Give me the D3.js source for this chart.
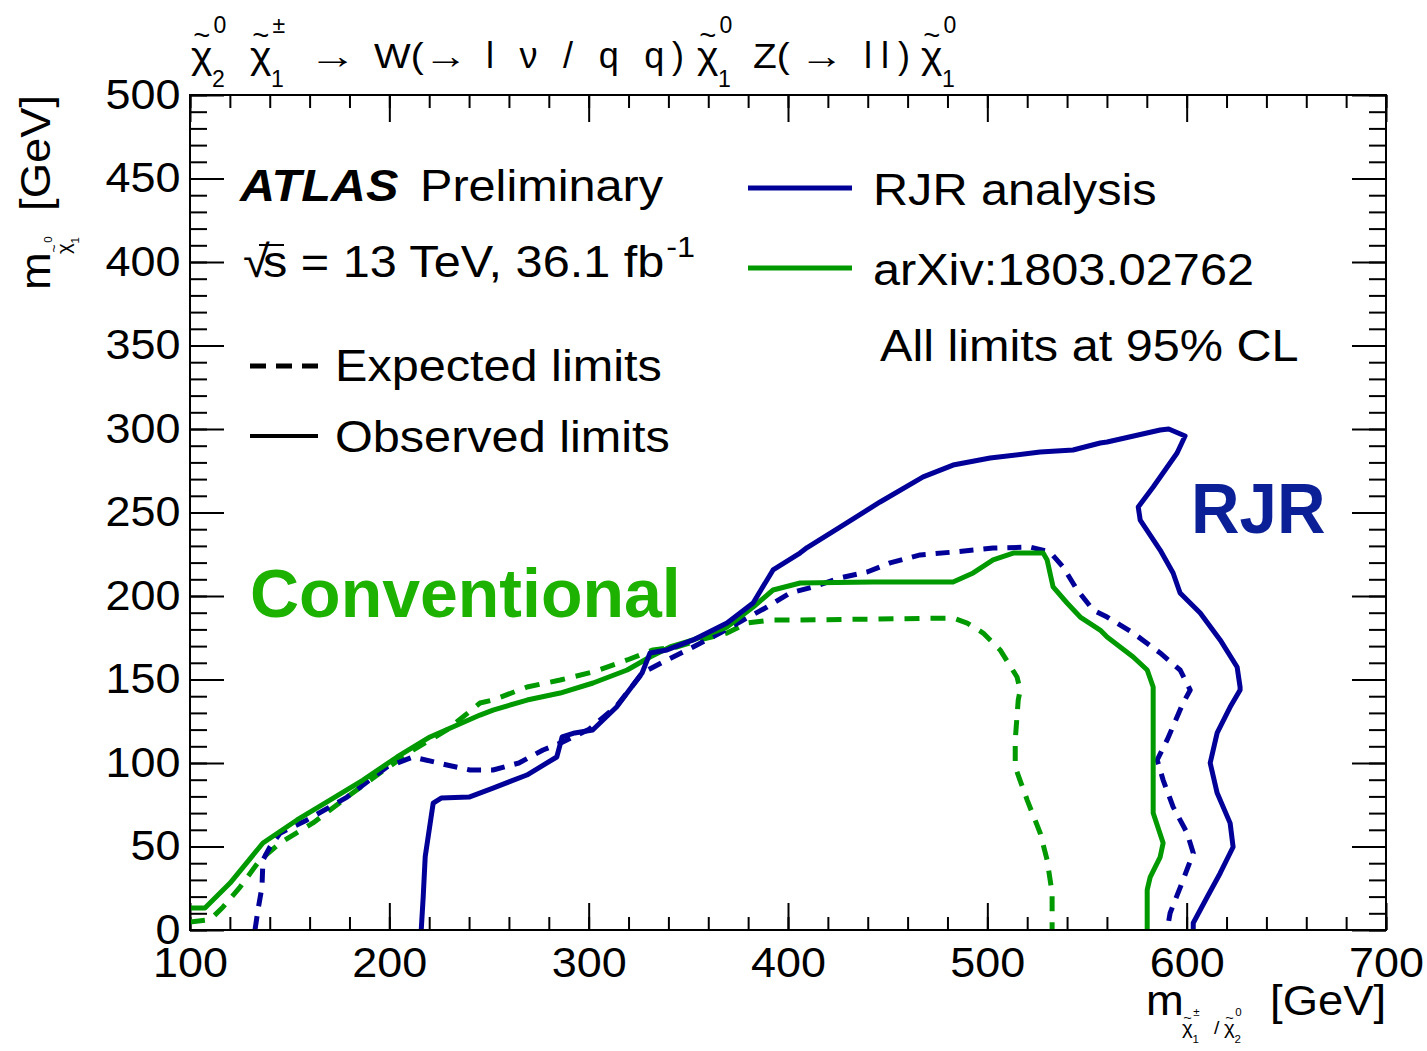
<!DOCTYPE html>
<html>
<head>
<meta charset="utf-8">
<script src="https://cdn.jsdelivr.net/npm/d3@7"></script>
<style>
  body { margin: 0; background: #fff; }
  svg { display: block; }
  text { font-family: "Liberation Sans", Arial, Helvetica, sans-serif; fill: #000; }
</style>
</head>
<body>
<svg id="chart" width="1427" height="1051"></svg>
<script>
// Exclusion contours: [m(chargino / neutralino2) GeV, m(neutralino1) GeV]
const rjrObserved = [
  [216,0],[217,20],[218,44],[222,76],[226,79],[240,79.6],[252,85],[269,92.8],[284,103.6],
  [286.7,115.6],[293,118],[302,119.8],[314,133.5],[326.8,153.9],[330.8,165.9],[339.3,167.7],
  [352.4,173.7],[369.4,183.8],[382.5,195.8],[392.5,215.6],[406,225.7],[409.6,229],[426.1,241.3],
  [446.2,256.3],[467.8,271.3],[482.8,278.4],[501.4,282.6],[526.5,286.2],[543,287.4],[556.6,291.6],
  [560.1,292.2],[586.7,299.4],[591,300],[599.2,295.8],[595.2,285.6],[583.2,265.3],[575.7,253.3],
  [576.7,245.5],[586.7,227.5],[593.2,213.8],[596.7,201.8],[606.8,189.8],[616.8,173.7],[625.3,157.5],
  [626.8,145.5],[626.8,143.7],[621.8,133.5],[615.3,118],[611.8,100],[615.3,82],[621.8,64],
  [623.3,49.7],[616.8,34],[610.3,19.8],[603.3,4.2],[603.3,0]
];
const rjrExpected = [
  [132.6,0],[134.1,12],[136.1,25.7],[136.6,41.9],[140.1,49.7],[145.2,58],[158.7,65.9],[178.8,79.6],
  [198.8,97.6],[211.9,103.6],[228.9,98.8],[240.5,95.8],[252,95.8],[265,100],[277.1,107.8],[286,112],
  [300,120],[314,134],[327,154],[339.3,161.7],[352.4,169.5],[365.9,177.8],[377.5,185.6],[389.5,193.4],
  [401.1,201.8],[412.6,205.4],[426.1,210.8],[439.7,214.4],[451.2,219.8],[466.3,224.6],[482.8,226.3],
  [502.9,228.7],[521.5,229.3],[531.5,226.3],[538,217.4],[545.1,203.6],[553.1,191.6],[560.1,187.4],
  [573.2,177.8],[586.7,165.9],[596.7,155.7],[601.8,143.7],[598.2,135.9],[590.2,113.8],[585.2,101.8],
  [588.2,89.8],[593.2,73.7],[600.2,58.1],[603.3,46.1],[598.2,29.9],[591.7,10.2],[590.2,0]
];
const convObserved = [
  [100,13.2],[107.5,13.2],[120.1,28.1],[136.6,52.1],[153.7,65.9],[170.2,77.8],[186.8,89.8],
  [203.9,103.6],[220.4,115.6],[245.5,128.7],[252,131.7],[269.1,137.7],[285.7,141.9],[302.2,147.9],
  [319.3,155.7],[330.8,163.5],[340.8,169.5],[352.4,173.7],[369.4,181.4],[382.5,193.4],[392.5,203.6],
  [406.1,207.8],[442.7,208.4],[482.8,208.4],[492.9,213.8],[502.9,221.6],[513,225.7],[528,225.7],
  [530,221.6],[533,205.4],[540,195.8],[546.6,187.4],[556.6,179.6],[560.1,175.4],[573.2,163.5],
  [580.2,155.7],[583.2,145.5],[583.2,109.6],[583.2,70.1],[588.2,52.1],[586.7,43.7],[581.7,31.7],
  [580.2,24],[580.2,0]
];
const convExpected = [
  [100,4.8],[108.5,6],[111.5,7.8],[116.6,13.8],[125.1,25.7],[135.1,41.9],[145.2,52.1],[161.7,64.1],
  [178.8,79.6],[195.3,94],[211.9,107.8],[228.9,119.8],[245.5,135.9],[252,137.7],[269.1,145.5],
  [285.7,149.7],[302.2,154.5],[319.3,161.7],[332.3,167.7],[344.4,169.5],[355.9,173.7],[369.4,177.8],
  [379.5,183.8],[391,185.6],[406.1,185.6],[482.8,186.8],[489.9,183.8],[497.9,177.8],[506.4,167.7],
  [514.9,151.5],[516.5,143.7],[515.5,137.7],[514,113.8],[514,97.6],[520,77.8],[526.5,58.1],
  [530,41.9],[532.5,22.2],[532.5,0]
];

const xMajorTicks = [100, 200, 300, 400, 500, 600, 700];
const yMajorTicks = [0, 50, 100, 150, 200, 250, 300, 350, 400, 450, 500];
const xMinorTicks = d3.range(100, 701, 20);
const yMinorTicks = d3.range(0, 501, 10);

const blue = "#000099";
const green = "#009a00";
const FONT = '"Liberation Sans", Arial, Helvetica, sans-serif';
const SX = 1.08; // horizontal widening of the ROOT-style text

const svg = d3.select("#chart");
svg.append("rect").attr("width", 1427).attr("height", 1051).attr("fill", "#fff");

const frame = { left: 190, right: 1386, top: 95, bottom: 930 };
const x = d3.scaleLinear().domain([100, 700]).range([frame.left, frame.right]);
const y = d3.scaleLinear().domain([0, 500]).range([frame.bottom, frame.top]);

// ---- axes (ticks pointing into the frame on all four sides) ----
function axis(gen, tx, ty) {
  const g = svg.append("g").attr("transform", `translate(${tx},${ty})`)
    .attr("font-family", FONT).call(gen);
  g.select(".domain").remove();
  g.selectAll("line").attr("stroke", "#000").attr("stroke-width", 2);
  return g;
}
axis(d3.axisBottom(x).tickValues(xMinorTicks).tickSize(-13).tickFormat(""), 0, frame.bottom);
axis(d3.axisTop(x).tickValues(xMinorTicks).tickSize(-13).tickFormat(""), 0, frame.top);
axis(d3.axisLeft(y).tickValues(yMinorTicks).tickSize(-17).tickFormat(""), frame.left, 0);
axis(d3.axisRight(y).tickValues(yMinorTicks).tickSize(-17).tickFormat(""), frame.right, 0);

const gxb = axis(d3.axisBottom(x).tickValues(xMajorTicks).tickSize(-27).tickPadding(17).tickFormat(d3.format("d")), 0, frame.bottom);
axis(d3.axisTop(x).tickValues(xMajorTicks).tickSize(-27).tickFormat(""), 0, frame.top);
const gyl = axis(d3.axisLeft(y).tickValues(yMajorTicks).tickSize(-34).tickPadding(9).tickFormat(d3.format("d")), frame.left, 0);
axis(d3.axisRight(y).tickValues(yMajorTicks).tickSize(-34).tickFormat(""), frame.right, 0);

[gxb, gyl].forEach(g => {
  g.attr("font-size", 42);
  g.selectAll("text").attr("fill", "#000").attr("transform", "scale(1.07,1)");
});

// ---- contours ----
svg.append("clipPath").attr("id", "plotclip").append("rect")
  .attr("x", frame.left).attr("y", frame.top)
  .attr("width", frame.right - frame.left).attr("height", frame.bottom - frame.top);

const line = d3.line().x(d => x(d[0])).y(d => y(d[1]));
const curves = svg.append("g").attr("clip-path", "url(#plotclip)");
const series = [
  { data: convExpected, color: green, dash: "15,11" },
  { data: rjrExpected, color: blue, dash: "14,10" },
  { data: convObserved, color: green, dash: null },
  { data: rjrObserved, color: blue, dash: null }
];
series.forEach(s => {
  curves.append("path").attr("d", line(s.data)).attr("fill", "none")
    .attr("stroke", s.color).attr("stroke-width", 5)
    .attr("stroke-linejoin", "round")
    .attr("stroke-dasharray", s.dash);
});

// frame
svg.append("rect").attr("x", frame.left).attr("y", frame.top)
  .attr("width", frame.right - frame.left).attr("height", frame.bottom - frame.top)
  .attr("fill", "none").attr("stroke", "#000").attr("stroke-width", 2);

// ---- text helpers ----
function label(parent, tx, ty, str, size, opts = {}) {
  const t = parent.append("text")
    .attr("transform", `translate(${tx},${ty}) scale(${opts.sx ?? SX},1)`)
    .attr("font-size", size)
    .attr("text-anchor", opts.anchor || "start")
    .text(str);
  if (opts.weight) t.attr("font-weight", opts.weight);
  if (opts.style) t.attr("font-style", opts.style);
  if (opts.fill) t.style("fill", opts.fill);
  if (opts.len) t.attr("textLength", opts.len).attr("lengthAdjust", opts.adjust || "spacing");
  return t;
}
// neutralino / chargino symbol: chi with tilde and indices
function chi(parent, tx, ty, size, sup, sub) {
  label(parent, tx, ty, "χ", size * 1.05);
  label(parent, tx + size * 0.30, ty - size * 0.64, "~", size * 0.75, { anchor: "middle" });
  label(parent, tx + size * 0.80, ty - size * 0.98, sup, size * 0.64, { anchor: "middle", sx: 1 });
  label(parent, tx + size * 0.76, ty + size * 0.52, sub, size * 0.64, { anchor: "middle", sx: 1 });
}

// ---- title ----
const title = svg.append("g");
chi(title, 191, 68, 36, "0", "2");
chi(title, 250, 68, 36, "±", "1");
label(title, 309, 68, "→", 36, { len: 48, adjust: "spacingAndGlyphs", sx: 1 });
label(title, 374, 68, "W(", 36);
label(title, 424, 68, "→", 36, { len: 44, adjust: "spacingAndGlyphs", sx: 1 });
label(title, 486, 68, "l ν / q q)", 36, { len: 198, sx: 1 });
chi(title, 697, 68, 36, "0", "1");
label(title, 753, 68, "Z(", 36);
label(title, 800, 68, "→", 36, { len: 44, adjust: "spacingAndGlyphs", sx: 1 });
label(title, 864, 68, "ll)", 36, { len: 46, sx: 1 });
chi(title, 921, 68, 36, "0", "1");

// ---- axis titles ----
const xt = svg.append("g");
label(xt, 1146, 1015, "m", 42);
chi(xt, 1182, 1034, 18, "±", "1");
label(xt, 1214, 1034, "/", 18);
chi(xt, 1224, 1034, 18, "0", "2");
label(xt, 1386, 1015, "[GeV]", 42, { anchor: "end" });

const yt = svg.append("g").attr("transform", "translate(50,290) rotate(-90)");
label(yt, 0, 0, "m", 42);
chi(yt, 36, 20, 18, "0", "1");
label(yt, 195, 0, "[GeV]", 42, { anchor: "end" });

// ---- legend / annotations ----
const lg = svg.append("g");
label(lg, 240, 201, "ATLAS", 45, { weight: "bold", style: "italic" });
label(lg, 420, 201, "Preliminary", 45);
label(lg, 243, 277, "√", 45);
const sq = label(lg, 263, 277, "s = 13 TeV, 36.1 fb", 45);
lg.append("line").attr("x1", 259).attr("x2", 284).attr("y1", 245).attr("y2", 245)
  .attr("stroke", "#000").attr("stroke-width", 2);
const sqW = sq.node().getComputedTextLength() * SX;
label(lg, 263 + sqW + 2, 257, "-1", 30);

lg.append("line").attr("x1", 250).attr("x2", 318).attr("y1", 366).attr("y2", 366)
  .attr("stroke", "#000").attr("stroke-width", 5).attr("stroke-dasharray", "16,10");
label(lg, 335, 381, "Expected limits", 45);
lg.append("line").attr("x1", 250).attr("x2", 318).attr("y1", 436).attr("y2", 436)
  .attr("stroke", "#000").attr("stroke-width", 4);
label(lg, 335, 452, "Observed limits", 45);

lg.append("line").attr("x1", 748).attr("x2", 852).attr("y1", 188).attr("y2", 188)
  .attr("stroke", blue).attr("stroke-width", 5);
label(lg, 873, 205, "RJR analysis", 45);
lg.append("line").attr("x1", 748).attr("x2", 852).attr("y1", 268).attr("y2", 268)
  .attr("stroke", green).attr("stroke-width", 5);
label(lg, 873, 285, "arXiv:1803.02762", 45);
label(lg, 880, 361, "All limits at 95% CL", 45);

label(svg, 250, 617, "Conventional", 68, { weight: "bold", fill: "#1db100", sx: 1 });
label(svg, 1191, 533, "RJR", 70, { weight: "bold", fill: "#0b1f97", sx: 0.96 });
</script>
</body>
</html>
